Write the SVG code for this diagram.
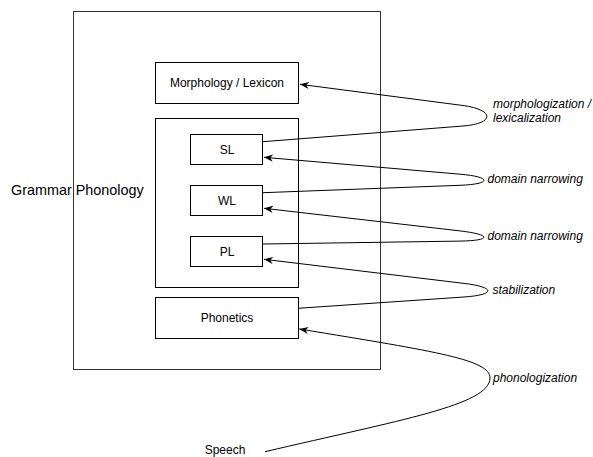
<svg xmlns="http://www.w3.org/2000/svg" width="593" height="457" viewBox="0 0 593 457">
<style>
.box{fill:#fff;stroke:#000;stroke-width:1}
.outer{fill:#fff;stroke:#333;stroke-width:1}
.t{font-family:"Liberation Sans",Arial,sans-serif;font-size:12px;fill:#000;text-anchor:middle}
.lbl{font-family:"Liberation Sans",Arial,sans-serif;font-size:12px;font-style:italic;fill:#000}
.edge{fill:none;stroke:#000;stroke-width:1;marker-end:url(#arr)}
</style>
<defs>
<marker id="arr" viewBox="0 0 10 10" refX="10" refY="5" markerWidth="9" markerHeight="9" markerUnits="userSpaceOnUse" orient="auto">
<path d="M0,1 L10,5 L0,9 L3,5 Z" fill="#000"/>
</marker>
</defs>
<rect width="593" height="457" fill="#fff"/>
<g id="grammar-phonology">
<rect class="outer" x="73.5" y="11.5" width="307" height="358"/>
<text x="11" y="195" style="font-family:'Liberation Sans',Arial,sans-serif;font-size:14.4px;fill:#000">Grammar Phonology</text>
</g>
<g id="morphology">
<rect class="box" x="155.5" y="62.5" width="143" height="41"/>
<text class="t" x="227" y="86.5">Morphology / Lexicon</text>
</g>
<g id="phonology-levels">
<rect class="box" x="155.5" y="118.5" width="143" height="169"/>
</g>
<g id="sl">
<rect class="box" x="190.5" y="134.5" width="72" height="30"/>
<text class="t" x="227" y="153.5">SL</text>
</g>
<g id="wl">
<rect class="box" x="190.5" y="185.5" width="72" height="30"/>
<text class="t" x="227" y="204.5">WL</text>
</g>
<g id="pl">
<rect class="box" x="190.5" y="236.5" width="72" height="30"/>
<text class="t" x="227" y="255.5">PL</text>
</g>
<g id="phonetics">
<rect class="box" x="155.5" y="297.5" width="143" height="41"/>
<text class="t" x="227" y="321.5">Phonetics</text>
</g>
<g id="speech">
<text class="t" x="225" y="454">Speech</text>
</g>
<g id="connectors">
<path class="edge" d="M263,141.7 L463,126 C495,123.6 494.7,109.8 463,105.5 L300,84.3"/>
<path class="edge" d="M263,192.7 L460,185.3 C492,184.1 491.9,176.9 460,174.2 L264,157.3"/>
<path class="edge" d="M263,244 L460,241.1 C492,240.6 491.8,234.6 460,230.9 L264,208.3"/>
<path class="edge" d="M298,308.3 L464,297 C495.9,294.8 495.8,287.2 464,283.4 L264,259.3"/>
<path class="edge" d="M265,451.7 C400,420 490,405 490,378 C490,360 440,352 299.3,329"/>
</g>
<g id="labels">
<text class="lbl" x="493" y="107.5">morphologization /</text>
<text class="lbl" x="493" y="121.7">lexicalization</text>
<text class="lbl" x="487.5" y="182.7">domain narrowing</text>
<text class="lbl" x="487.5" y="240">domain narrowing</text>
<text class="lbl" x="492.5" y="294.3">stabilization</text>
<text class="lbl" x="493" y="381.7">phonologization</text>
</g>
</svg>
